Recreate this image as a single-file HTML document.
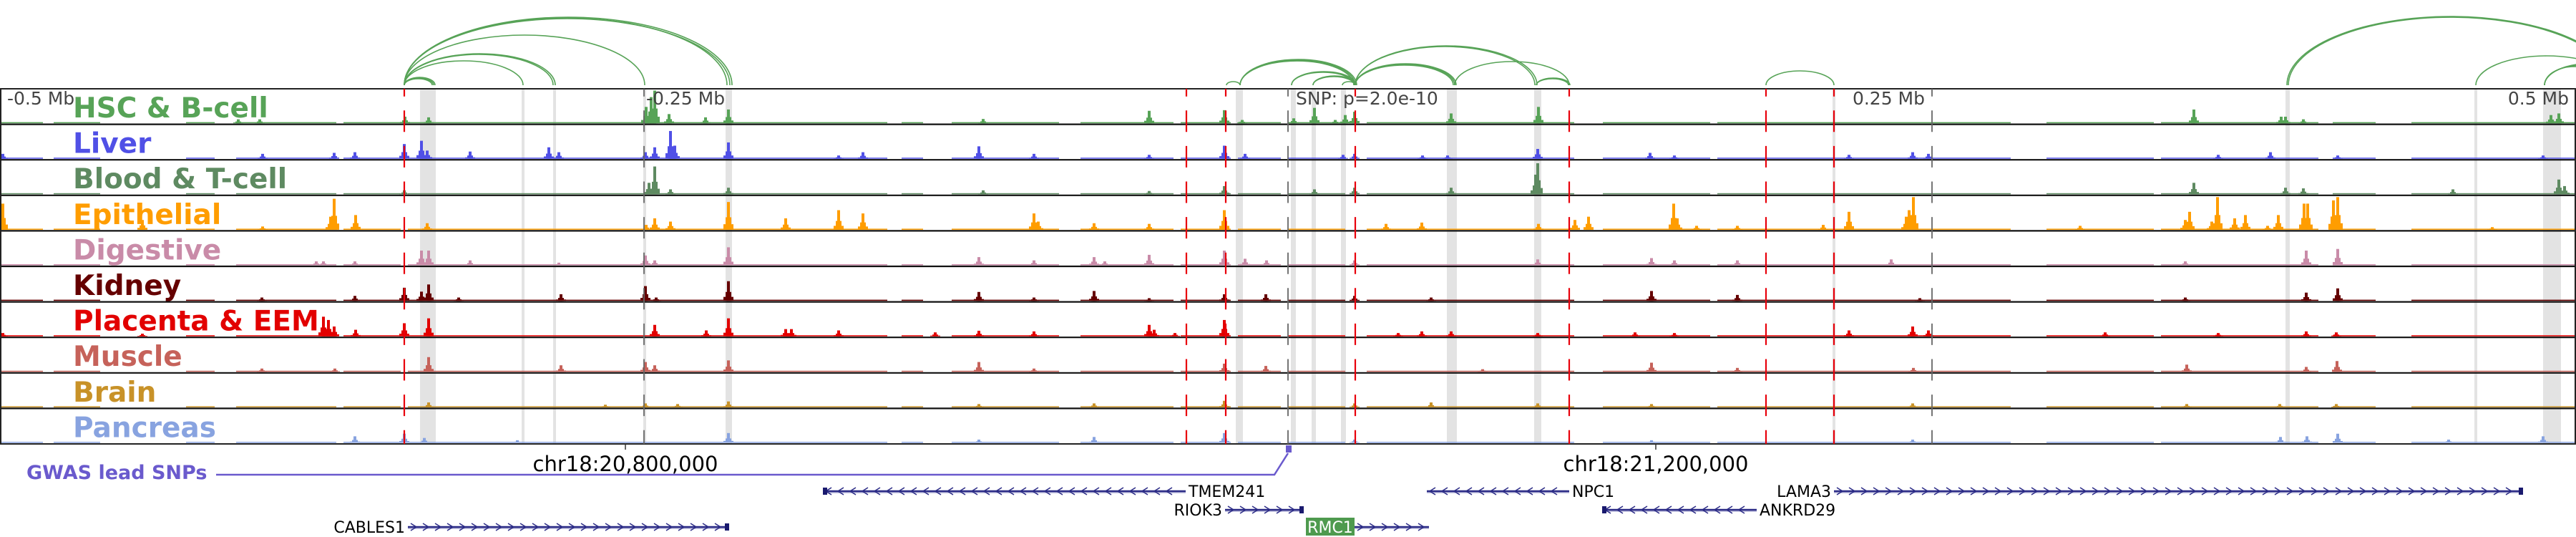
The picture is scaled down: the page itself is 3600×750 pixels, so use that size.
<!DOCTYPE html>
<html><head><meta charset="utf-8"><style>
html,body{margin:0;padding:0;background:#fff;width:3600px;height:750px;overflow:hidden}
svg{display:block}
text{font-family:"DejaVu Sans","Liberation Sans",sans-serif}
</style></head><body>
<svg id="chart" width="3600" height="750" viewBox="0 0 3600 750" xmlns="http://www.w3.org/2000/svg">
<g id="bands"></g>
<g id="arcs"></g>
<g id="tracks"></g>
<g id="vlines"></g>
<g id="labels"></g>
<g id="bottom"></g>
</svg>
<script>
const nBins = 3600;
const trackNames = ["HSC & B-cell","Liver","Blood & T-cell","Epithelial","Digestive","Kidney","Placenta & EEM","Muscle","Brain","Pancreas"];
const trackColors = ["#57a357","#5050e6","#5e8a61","#ff9d00","#c98ba8","#650000","#e20000","#c6625a","#c89228","#88a3e0"];
const peaksHSC = [[333,0.12],[363,0.12],[566,0.2],[599,0.18],[903,0.5],[910,0.8],[915,1.0],[935,0.28],[986,0.18],[1018,0.42],[1374,0.13],[1606,0.38],[1711,0.4],[1736,0.1],[1808,0.15],[1837,0.47],[1866,0.1],[1880,0.25],[1893,0.35],[2028,0.3],[2150,0.5],[3066,0.42],[3188,0.2],[3194,0.2],[3219,0.12],[3565,0.25],[3576,0.3]];
const peaksLiver = [[4,0.15],[367,0.15],[467,0.18],[496,0.2],[565,0.45],[589,0.55],[597,0.25],[657,0.22],[767,0.35],[781,0.2],[902,0.2],[915,0.35],[937,0.85],[943,0.4],[1018,0.5],[1172,0.1],[1206,0.2],[1368,0.38],[1445,0.15],[1606,0.12],[1711,0.4],[1740,0.15],[1877,0.12],[1893,0.15],[1988,0.1],[2023,0.1],[2149,0.3],[2306,0.18],[2340,0.1],[2584,0.12],[2673,0.2],[2695,0.15],[3100,0.12],[3173,0.2],[3267,0.1],[3554,0.1]];
const peaksBlood = [[565,0.12],[907,0.35],[915,0.85],[937,0.15],[1018,0.2],[1374,0.12],[1606,0.1],[1711,0.25],[1837,0.15],[1893,0.2],[2028,0.2],[2146,0.6],[2149,0.95],[3066,0.35],[3194,0.2],[3219,0.18],[3428,0.15],[3576,0.45],[3584,0.25]];
const peaksEpi = [[4,0.8],[199,0.3],[367,0.1],[462,0.4],[467,0.95],[497,0.45],[597,0.2],[903,0.15],[915,0.35],[937,0.25],[1018,0.85],[1098,0.35],[1172,0.6],[1206,0.5],[1445,0.5],[1451,0.25],[1529,0.2],[1606,0.18],[1711,0.6],[1937,0.18],[1987,0.22],[2150,0.18],[2201,0.3],[2220,0.4],[2339,0.8],[2344,0.35],[2371,0.12],[2428,0.12],[2548,0.15],[2584,0.55],[2664,0.4],[2668,0.6],[2674,1.0],[2907,0.12],[3054,0.3],[3060,0.55],[3091,0.25],[3099,1.0],[3123,0.35],[3138,0.45],[3169,0.12],[3184,0.45],[3220,0.8],[3225,0.8],[3261,0.9],[3267,1.0],[3483,0.08]];
const peaksDig = [[442,0.12],[452,0.12],[496,0.12],[589,0.45],[599,0.45],[657,0.15],[781,0.08],[902,0.3],[915,0.15],[1018,0.55],[1368,0.25],[1445,0.15],[1529,0.25],[1544,0.12],[1606,0.32],[1711,0.45],[1740,0.2],[1770,0.15],[1893,0.15],[2149,0.18],[2308,0.22],[2340,0.15],[2428,0.15],[2643,0.18],[3054,0.12],[3223,0.45],[3267,0.5]];
const peaksKid = [[366,0.1],[496,0.15],[565,0.4],[589,0.28],[599,0.5],[641,0.1],[784,0.2],[902,0.45],[917,0.1],[1018,0.6],[1368,0.27],[1445,0.1],[1529,0.3],[1606,0.08],[1711,0.2],[1769,0.2],[1893,0.15],[2000,0.1],[2308,0.3],[2428,0.18],[2683,0.08],[3054,0.1],[3223,0.25],[3267,0.38]];
const peaksPla = [[4,0.1],[199,0.08],[452,0.6],[459,0.5],[467,0.3],[497,0.2],[565,0.4],[599,0.55],[915,0.35],[987,0.18],[1018,0.55],[1098,0.22],[1106,0.22],[1172,0.18],[1307,0.12],[1368,0.17],[1445,0.15],[1606,0.35],[1613,0.2],[1642,0.1],[1711,0.5],[1954,0.1],[1987,0.15],[2028,0.15],[2149,0.1],[2285,0.12],[2340,0.1],[2584,0.18],[2673,0.3],[2695,0.18],[2942,0.12],[3100,0.1],[3223,0.15],[3265,0.12]];
const peaksMus = [[366,0.1],[468,0.1],[599,0.45],[784,0.2],[902,0.3],[915,0.2],[1018,0.35],[1368,0.3],[1445,0.1],[1711,0.25],[1769,0.18],[2072,0.08],[2308,0.28],[2428,0.12],[2674,0.12],[3056,0.22],[3223,0.15],[3266,0.33]];
const peaksBrain = [[599,0.15],[846,0.08],[902,0.12],[947,0.1],[1018,0.18],[1368,0.1],[1529,0.12],[1711,0.2],[1893,0.12],[2000,0.15],[2149,0.12],[2308,0.1],[2673,0.12],[3056,0.1],[3186,0.1],[3265,0.1]];
const peaksPan = [[496,0.2],[565,0.28],[593,0.15],[723,0.08],[1018,0.3],[1368,0.1],[1529,0.18],[1711,0.3],[1893,0.1],[2308,0.08],[2673,0.1],[3187,0.18],[3224,0.2],[3267,0.28],[3422,0.1],[3554,0.2]];
const trackPeaks = [peaksHSC,peaksLiver,peaksBlood,peaksEpi,peaksDig,peaksKid,peaksPla,peaksMus,peaksBrain,peaksPan];
const bgSegments = [[0,60],[75,140],[260,300],[330,470],[480,560],[570,1240],[1260,1290],[1330,1480],[1510,1640],[1650,1720],[1730,1790],[1800,1880],[1910,2200],[2240,2390],[2400,2810],[2860,3010],[3020,3240],[3260,3320],[3370,3600]];
const bandRanges = [[587,609],[729,733],[773,777],[899,903],[1014,1023],[1727,1737],[1804,1811],[1833,1839],[1874,1881],[2022,2036],[2144,2154],[2561,2565],[3194,3200],[3458,3462],[3554,3579]];
const redLineBins = [565,1658,1713,1894,2193,2468,2563];
const grayLineBins = [900,1800,2700];
const axisLabels = ["-0.5 Mb","-0.25 Mb","SNP: p=2.0e-10","0.25 Mb","0.5 Mb"];
const axisLabelBins = [10,903,1811,2690,3590];
const axisAnchors = ["start","start","start","end","end"];
const arcFrom = [565,565,565,565,565,565,565,565,565,565,1714,1733,1733,1733,1805,1805,1835,1835,1876,1894,1894,1894,1894,1894,2033,2147,2147,2468,3196,3198,3460,3556,3556,3556];
const arcTo   = [604,606,608,731,773,776,901,1016,1020,1023,1733,1892,1894,1896,1893,1895,1893,1895,1894,2031,2033,2035,2145,2148,2193,2192,2194,2563,3654,3652,3658,3640,3660,3680];
const arcH    = [9,10,11,34,43,44,70,94,93,95,5,34,35,36,18,19,12,13,5,28,29,30,54,55,33,9,10,20,96,95,41,26,28,30];
const rulerTickBins = [874,2314];
const rulerLabels = ["chr18:20,800,000","chr18:21,200,000"];
const geneNames = ["TMEM241","NPC1","LAMA3","RIOK3","ANKRD29","CABLES1","RMC1"];
const geneStart = [1150,1994,2563,1712,2239,570,1893];
const geneEnd   = [1657,2193,3525,1821,2455,1018,1997];
const geneStrand= [-1,-1,1,1,-1,1,1];
const geneRow   = [0,0,0,1,1,2,2];

const NS="http://www.w3.org/2000/svg";
const X0=0, W=3600, TOP=124, TH=49.6, NT=10, BOTTOM=TOP+TH*NT;
const x = b => X0 + b*W/nBins;
function el(tag, attrs, parent){const e=document.createElementNS(NS,tag);for(const k in attrs)e.setAttribute(k,attrs[k]);parent.appendChild(e);return e;}
const gB=document.getElementById('bands'), gA=document.getElementById('arcs'), gT=document.getElementById('tracks'), gV=document.getElementById('vlines'), gL=document.getElementById('labels'), gBot=document.getElementById('bottom');

bandRanges.forEach(r=>{
  const e=el('rect',{x:x(r[0]),y:TOP,width:x(r[1])-x(r[0]),height:BOTTOM-TOP,fill:'#e3e3e3'},gB);
  
  
});

const arcBase=119;
arcFrom.forEach((f,i)=>{
  const x1=x(f), x2=x(arcTo[i]), rx=(x2-x1)/2;
  const e=el('path',{d:`M${x1},${arcBase} A${rx},${arcH[i]} 0 0 1 ${x2},${arcBase}`,fill:'none',stroke:'#57a357','stroke-width':1.6},gA);
  
  
});

trackPeaks.forEach((peaks,t)=>{
  const top=TOP+t*TH, base=top+TH-1.5, H=TH-4;
  const g=el('g',{},gT);
  
  
  bgSegments.forEach(s=>{
    el('rect',{x:x(s[0]),y:base-1.5,width:x(s[1])-x(s[0]),height:1.5,fill:trackColors[t]},g);
  });
  peaks.forEach(p=>{
    const h=p[1]*H;
    el('rect',{x:x(p[0])-7,y:base-h*0.2,width:14,height:h*0.2,fill:trackColors[t]},g);
    el('rect',{x:x(p[0])-4,y:base-h*0.45,width:8,height:h*0.45,fill:trackColors[t]},g);
    const b=el('rect',{x:x(p[0])-2,y:base-h,width:4,height:h,fill:trackColors[t]},g);
    
    
  });
  const lab=el('text',{x:102,y:top+40,fill:trackColors[t],'font-size':39,'font-weight':'bold'},gL);
  lab.textContent=trackNames[t];
  
  
});

for(let i=1;i<NT;i++){ el('line',{x1:0,x2:W,y1:TOP+i*TH,y2:TOP+i*TH,stroke:'#111','stroke-width':2.2},gT); }
const frame=el('rect',{x:1,y:TOP,width:W-2,height:BOTTOM-TOP,fill:'none',stroke:'#222','stroke-width':2},gT);



redLineBins.forEach(b=>{
  const e=el('line',{x1:x(b),x2:x(b),y1:TOP,y2:BOTTOM,stroke:'#e8000b','stroke-width':2.2,'stroke-dasharray':'30 19.6','stroke-dashoffset':19.3},gV);
  
  
});
grayLineBins.forEach(b=>{
  const e=el('line',{x1:x(b),x2:x(b),y1:TOP,y2:BOTTOM,stroke:'#666','stroke-width':1.8,'stroke-dasharray':'30 19.6','stroke-dashoffset':19.3},gV);
  
  
});
axisLabels.forEach((s,i)=>{
  const e=el('text',{x:x(axisLabelBins[i]),y:146,fill:'#444','font-size':25,'text-anchor':axisAnchors[i]},gL);
  e.textContent=s;
  
  
});

rulerTickBins.forEach((b,i)=>{
  el('line',{x1:x(b),x2:x(b),y1:BOTTOM,y2:BOTTOM+8,stroke:'#333','stroke-width':1.5},gBot);
  const e=el('text',{x:x(b),y:658,'font-size':29,'text-anchor':'middle',fill:'#000'},gBot);
  e.textContent=rulerLabels[i];
  
  
});
const gw=el('text',{x:37,y:669,'font-size':27,'font-weight':'bold',fill:'#6a5acd'},gBot);
gw.textContent='GWAS lead SNPs';


const gl=el('polyline',{points:`302,663 ${x(1781)},663 ${x(1800)},633`,fill:'none',stroke:'#6a5acd','stroke-width':2.5},gBot);


const gm=el('rect',{x:x(1797),y:622,width:8,height:10,fill:'#6a5acd'},gBot);



const rowY=[686,712,736];
geneNames.forEach((n,i)=>{
  const y=rowY[geneRow[i]], x1=x(geneStart[i]), x2=x(geneEnd[i]);
  const g=el('g',{},gBot);
  
  
  el('line',{x1,x2,y1:y,y2:y,stroke:'#2b2b86','stroke-width':2.5},g);
  el('line',{x1,x2,y1:y+2,y2:y+2,stroke:'#8a8ac0','stroke-width':1},g);
  for(let cx=x1+8;cx<x2-6;cx+=17){
    const d=geneStrand[i]*4;
    el('polyline',{points:`${cx-d},${y-5} ${cx+d},${y} ${cx-d},${y+5}`,fill:'none',stroke:'#2b2b86','stroke-width':1.5},g);
  }
  const endX = geneStrand[i]>0 ? x2-5 : x1;
  if(n!=='RMC1' && n!=='NPC1') el('rect',{x:endX,y:y-5,width:6,height:10,fill:'#1a1a6e'},g);
  if(n==='RMC1'){
    el('rect',{x:x1-68,y:y-13,width:68,height:25,fill:'#4e9a4e'},g);
    const t=el('text',{x:x1-34,y:y+8,'font-size':22,'text-anchor':'middle',fill:'#fff'},g);
    t.textContent=n;
  } else {
    const left = (n==='TMEM241'||n==='NPC1'||n==='ANKRD29');
    const t=el('text',{x:left?x2+4:x1-4,y:y+8,'font-size':22,'text-anchor':left?'start':'end',fill:'#000'},g);
    t.textContent=n;
  }
});
</script>
</body></html>
